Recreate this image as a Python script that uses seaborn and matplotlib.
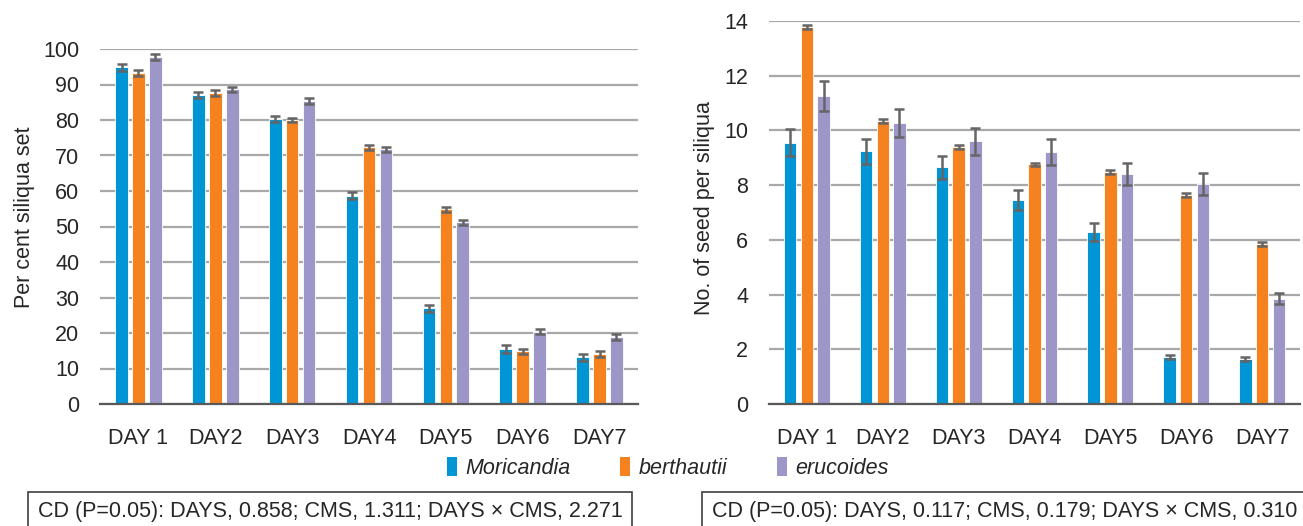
import matplotlib
matplotlib.use("Agg")
import matplotlib.pyplot as plt
import seaborn as sns
import pandas as pd
from matplotlib.patches import Rectangle

sns.set_theme(style="white")
plt.rcParams['font.family'] = ['Liberation Sans', 'DejaVu Sans']

days = ["DAY 1", "DAY2", "DAY3", "DAY4", "DAY5", "DAY6", "DAY7"]
species = ["Moricandia", "berthautii", "erucoides"]
colors = ["#0096D6", "#F5821F", "#9D96C9"]

set_mor = [94.8, 87.1, 80.3, 58.7, 27.0, 15.6, 13.2]
set_ber = [93.3, 87.7, 80.0, 72.3, 54.8, 14.8, 14.1]
set_eru = [97.7, 88.6, 85.4, 71.7, 51.2, 20.4, 18.8]
set_mor_err = [1.0, 0.9, 0.9, 1.0, 1.0, 1.1, 1.0]
set_ber_err = [0.8, 0.8, 0.7, 0.7, 0.7, 0.8, 0.8]
set_eru_err = [0.8, 0.8, 0.8, 0.7, 0.7, 0.8, 0.8]

seed_mor = [9.55, 9.23, 8.65, 7.46, 6.29, 1.72, 1.63]
seed_ber = [13.77, 10.35, 9.39, 8.76, 8.48, 7.64, 5.86]
seed_eru = [11.26, 10.26, 9.60, 9.22, 8.41, 8.05, 3.84]
seed_mor_err = [0.50, 0.47, 0.43, 0.38, 0.32, 0.06, 0.07]
seed_ber_err = [0.07, 0.08, 0.07, 0.06, 0.07, 0.07, 0.07]
seed_eru_err = [0.55, 0.51, 0.48, 0.47, 0.41, 0.40, 0.20]

cd_left = "CD (P=0.05): DAYS, 0.858; CMS, 1.311; DAYS \u00d7 CMS, 2.271"
cd_right = "CD (P=0.05): DAYS, 0.117; CMS, 0.179; DAYS \u00d7 CMS, 0.310"

W, H = 1303, 526
FS = 15.5
fig = plt.figure(figsize=(W / 100, H / 100), dpi=100)

def make_df(vals, errs):
    rows = []
    for sp, v, e in zip(species, vals, errs):
        for d, vv, ee in zip(days, v, e):
            rows.append({"day": d, "species": sp, "value": vv, "err": ee})
    return pd.DataFrame(rows)

def panel(rect, vals, errs, ylim, yticks, ylabel, label_xy):
    ax = fig.add_axes(rect)
    df = make_df(vals, errs)
    sns.barplot(data=df, x="day", y="value", hue="species", order=days,
                hue_order=species, palette=colors, errorbar=None,
                width=0.66, gap=0.25, saturation=1, legend=False,
                edgecolor="white", linewidth=0.6, ax=ax)
    for cont, sp in zip(ax.containers, species):
        sub = df[df.species == sp].set_index("day").loc[days]
        xs = [b.get_x() + b.get_width() / 2 for b in cont]
        ax.errorbar(xs, sub["value"].values, yerr=sub["err"].values,
                    fmt="none", ecolor="#656565", elinewidth=1.8,
                    capsize=3.6, capthick=1.8, zorder=5)
    ax.set_xlim(-0.5, 6.5)
    ax.set_ylim(*ylim)
    ax.set_yticks(yticks)
    ax.yaxis.grid(True, color="#A8A8A8", linewidth=1.6)
    ax.set_axisbelow(True)
    for s in ["left", "right", "top"]:
        ax.spines[s].set_visible(False)
    ax.spines["bottom"].set_color("#595959")
    ax.spines["bottom"].set_linewidth(1.6)
    ax.spines["bottom"].set_zorder(6)
    ax.tick_params(axis="x", length=0, pad=17.5, labelsize=FS, labelcolor="#262626")
    ax.tick_params(axis="y", length=0, pad=15, labelsize=FS, labelcolor="#262626")
    ax.set_xlabel("")
    ax.set_ylabel(ylabel, fontsize=FS, color="#262626")
    ax.yaxis.set_label_coords(label_xy[0] / W, 1 - label_xy[1] / H, transform=fig.transFigure)
    return ax

ax1 = panel([100 / W, (H - 404) / H, (638 - 100) / W, (404 - 49) / H],
            [set_mor, set_ber, set_eru], [set_mor_err, set_ber_err, set_eru_err],
            (0, 100), range(0, 101, 10), "Per cent siliqua set", (35, 217))
ax2 = panel([769 / W, (H - 404) / H, (1300 - 769) / W, (404 - 21) / H],
            [seed_mor, seed_ber, seed_eru], [seed_mor_err, seed_ber_err, seed_eru_err],
            (0, 14), range(0, 15, 2), "No. of seed per siliqua", (715, 208))

handles = [Rectangle((0, 0), 1, 1, facecolor=c, edgecolor="none") for c in colors]
fig.legend(handles, species, loc="center", bbox_to_anchor=(668 / W, 1 - 468 / H),
           ncol=3, frameon=False, prop={"style": "italic", "size": FS},
           handlelength=0.45, handleheight=1.0, handletextpad=0.4, columnspacing=2.3)

fig.text(38 / W, 1 - 512 / H, cd_left, fontsize=FS, color="#262626", va="center", ha="left",
         bbox=dict(boxstyle="square,pad=0.45", facecolor="white", edgecolor="#404040", linewidth=1.2))
fig.text(712 / W, 1 - 512 / H, cd_right, fontsize=FS, color="#262626", va="center", ha="left",
         bbox=dict(boxstyle="square,pad=0.45", facecolor="white", edgecolor="#404040", linewidth=1.2))

fig.savefig("out.png", dpi=100)
